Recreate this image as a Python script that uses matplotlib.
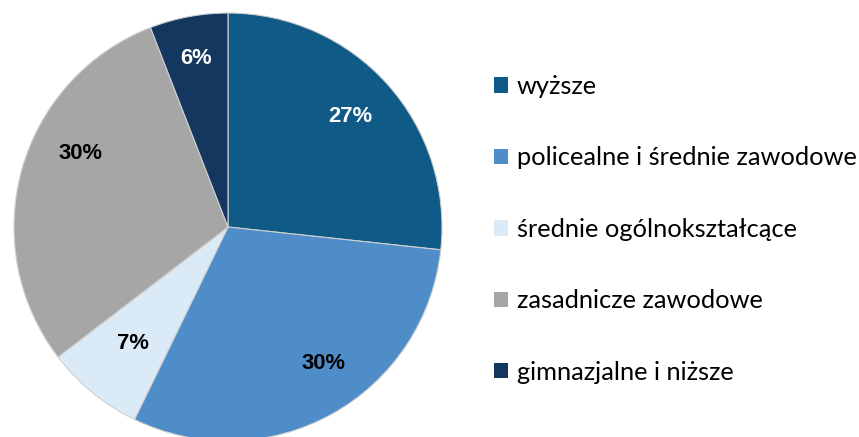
import matplotlib
matplotlib.use("Agg")
import matplotlib.pyplot as plt
import numpy as np

# education level shares (%)
categories = ["wyższe", "policealne i średnie zawodowe", "średnie ogólnokształcące",
              "zasadnicze zawodowe", "gimnazjalne i niższe"]
shares = [26.7, 30.5, 7.4, 29.5, 5.9]
pct_labels = ["27%", "30%", "7%", "30%", "6%"]
colors = ["#0F5A87", "#4F8DC9", "#DAEAF6", "#A6A6A6", "#13375E"]
label_colors = ["white", "black", "black", "black", "white"]
# label placement tweaks (angle shift in deg, radial distance)
label_shift = [0, 6, 0, -11, 0]
label_dist = [0.77, 0.78, 0.70, 0.77, 0.80]

fig = plt.figure(figsize=(8.59, 4.37), dpi=100)
# pie centre at (228, 227) px, radius 214 px
ax = fig.add_axes([14/859, (210-214)/437, 428/859, 428/437])

wedges, texts = ax.pie(shares, colors=colors, startangle=90, counterclock=False, radius=1,
                       wedgeprops=dict(edgecolor="#D0D0D0", linewidth=0.8))
for w, lab, c, sh, d in zip(wedges, pct_labels, label_colors, label_shift, label_dist):
    ang = np.deg2rad((w.theta1 + w.theta2) / 2 + sh)
    ax.text(d*np.cos(ang), d*np.sin(ang), lab, ha="center", va="center", color=c,
            fontsize=15.8, fontweight="bold", family="Liberation Sans")
ax.set_xlim(-1, 1)
ax.set_ylim(-1, 1)
ax.set_aspect("equal")
ax.axis("off")

leg = fig.legend(wedges, categories, loc="upper left", bbox_to_anchor=(494/859, 1-75/437),
                 frameon=False, borderpad=0, borderaxespad=0,
                 handlelength=0.55, handleheight=0.55, handletextpad=0.35,
                 labelspacing=1.905, prop={"family": "Lato", "size": 18.3})
for h in leg.legend_handles:
    h.set_edgecolor("none")

fig.savefig("out.png", dpi=100)
